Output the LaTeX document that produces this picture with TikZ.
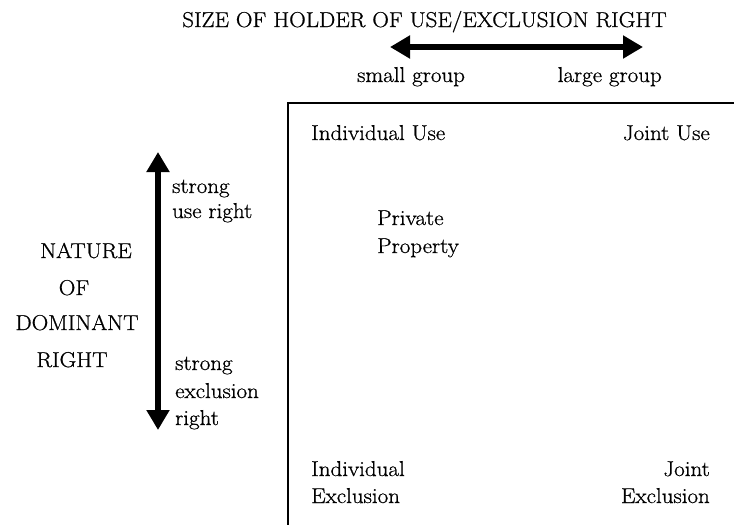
\documentclass[tikz,border=0pt]{standalone}
\usepackage{fontspec}
\setmainfont{Latin Modern Roman}[FakeStretch=1.07,FakeBold=0.8]
\usetikzlibrary{arrows.meta}
\begin{document}
\begin{tikzpicture}[x=1pt,y=-1pt,
  txt/.style={inner sep=0pt,font=\fontsize{21.5}{25}\selectfont},
  lt/.style={txt,anchor=base west},
  rt/.style={txt,anchor=base east},
  ct/.style={txt,anchor=base},
  bigarrow/.style={line width=5.5pt,{Triangle[length=20pt,width=22pt]}-{Triangle[length=20pt,width=22pt]}}]
\useasboundingbox (0,0) rectangle (734,525);
% top labels
\node[ct] (title) at (424.5,27) {SIZE OF HOLDER OF USE/EXCLUSION RIGHT};
\coordinate (hl) at (390,47);
\coordinate (hr) at (643,47);
\draw[bigarrow] (hl) -- (hr);
\node[lt] (small) at (357,82) {small group};
\node[rt] (large) at (662,82) {large group};
% box
\coordinate (bl) at (288,525);
\coordinate (tl) at (288,103);
\coordinate (tr) at (734,103);
\draw[line width=1.2pt] (bl) -- (tl) -- (tr);
\node[lt] (iu) at (311,140) {Individual Use};
\node[rt] (ju) at (710,140) {Joint Use};
\node[lt] (pp1) at (377,225) {Private};
\node[lt] (pp2) at (377,253) {Property};
\node[lt] (ie1) at (311,476) {Individual};
\node[lt] (ie2) at (311,503) {Exclusion};
\node[rt] (je1) at (710,476) {Joint};
\node[rt] (je2) at (710,503) {Exclusion};
% vertical arrow
\coordinate (vt) at (158,152);
\coordinate (vb) at (158,430);
\draw[bigarrow] (vt) -- (vb);
\node[lt] (su1) at (172,193) {strong};
\node[lt] (su2) at (172,218) {use right};
\node[lt] (se1) at (175,370) {strong};
\node[lt] (se2) at (175,398) {exclusion};
\node[lt] (se3) at (175,425) {right};
% left title
\node[ct] (n1) at (86,258) {NATURE};
\node[ct] (n2) at (74,295) {OF};
\node[ct] (n3) at (77,330) {DOMINANT};
\node[ct] (n4) at (72,367) {RIGHT};
\end{tikzpicture}
\end{document}
